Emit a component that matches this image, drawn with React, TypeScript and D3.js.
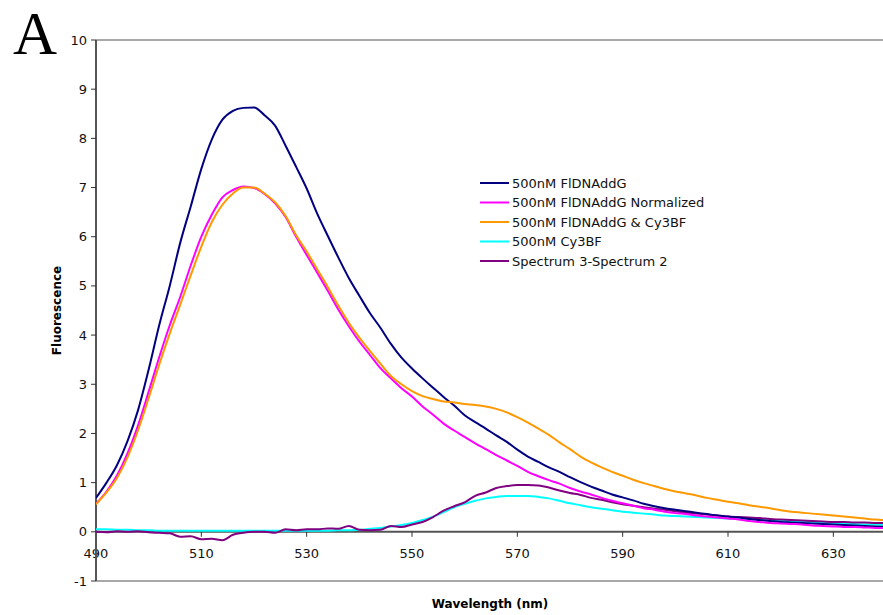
import React from "react";
import * as d3 from "d3";

// Emission wavelengths (nm), 2 nm steps
const wavelengths: number[] = d3.range(490, 641, 2);

const fldnaddG: number[] = [
  0.69, 1.0, 1.36, 1.85, 2.48, 3.3, 4.2, 5.0, 5.88, 6.62,
  7.38, 7.98, 8.38, 8.56, 8.62, 8.63, 8.47, 8.26, 7.85, 7.42,
  6.98, 6.47, 6.02, 5.58, 5.16, 4.8, 4.45, 4.15, 3.82, 3.54,
  3.32, 3.12, 2.93, 2.74, 2.57, 2.37, 2.23, 2.1, 1.96, 1.83,
  1.67, 1.53, 1.42, 1.31, 1.22, 1.11, 1.01, 0.92, 0.84, 0.76,
  0.7, 0.64, 0.57, 0.52, 0.48, 0.45, 0.42, 0.39, 0.36, 0.33,
  0.31, 0.29, 0.26, 0.24, 0.22, 0.2, 0.19, 0.18, 0.17, 0.16,
  0.15, 0.14, 0.13, 0.12, 0.11, 0.1,
];

const fldnaddGNormalized: number[] = [
  0.57, 0.82, 1.15, 1.6, 2.17, 2.85, 3.55, 4.2, 4.78, 5.42,
  6.0, 6.45, 6.8, 6.95, 7.02, 6.99, 6.87, 6.68, 6.4, 6.0,
  5.63, 5.27, 4.9, 4.52, 4.18, 3.87, 3.6, 3.33, 3.12, 2.92,
  2.75, 2.55, 2.38, 2.2, 2.06, 1.93, 1.8, 1.68, 1.56, 1.45,
  1.34, 1.22, 1.13, 1.05, 0.98, 0.89, 0.82, 0.76, 0.69, 0.63,
  0.58, 0.53, 0.48, 0.45, 0.41, 0.38, 0.36, 0.33, 0.31, 0.29,
  0.27, 0.25, 0.22, 0.2, 0.18, 0.17, 0.16, 0.15, 0.13, 0.12,
  0.11, 0.1, 0.1, 0.09, 0.08, 0.08,
];

const fldnaddGCy3bf: number[] = [
  0.56, 0.8, 1.1, 1.52, 2.07, 2.72, 3.4, 4.03, 4.62, 5.22,
  5.8, 6.3, 6.65, 6.88, 7.0, 7.0, 6.88, 6.7, 6.42, 6.03,
  5.7, 5.34, 4.98, 4.6, 4.25, 3.95, 3.68, 3.42, 3.17, 3.0,
  2.86, 2.76, 2.7, 2.65, 2.63, 2.6, 2.58, 2.55, 2.5, 2.43,
  2.33, 2.22, 2.1, 1.97, 1.82, 1.68, 1.53, 1.41, 1.31, 1.22,
  1.14, 1.06, 0.99, 0.93, 0.87, 0.82, 0.78, 0.74, 0.69, 0.65,
  0.61, 0.58, 0.54, 0.51, 0.48, 0.44, 0.41, 0.39, 0.37, 0.35,
  0.33, 0.31, 0.29, 0.27, 0.25, 0.24,
];

const cy3bf: number[] = [
  0.05, 0.05, 0.04, 0.04, 0.03, 0.03, 0.02, 0.02, 0.02, 0.02,
  0.02, 0.02, 0.02, 0.02, 0.02, 0.02, 0.02, 0.02, 0.02, 0.02,
  0.02, 0.02, 0.02, 0.03, 0.03, 0.04, 0.06, 0.08, 0.11, 0.14,
  0.18, 0.24, 0.31, 0.4, 0.5, 0.57, 0.63, 0.68, 0.71, 0.73,
  0.73, 0.73, 0.71, 0.68, 0.63, 0.58, 0.54, 0.5, 0.47, 0.44,
  0.41, 0.39, 0.37, 0.35, 0.33, 0.32, 0.31, 0.3, 0.29, 0.28,
  0.27, 0.26, 0.25, 0.24, 0.23, 0.22, 0.22, 0.21, 0.2, 0.19,
  0.18, 0.17, 0.16, 0.15, 0.15, 0.14,
];

const spectrumDiff: number[] = [
  0.0, -0.01, 0.01, 0.0, 0.01, -0.01, -0.02, -0.03, -0.1, -0.09,
  -0.15, -0.14, -0.17, -0.06, -0.02, 0.0, 0.0, -0.02, 0.05, 0.03,
  0.05, 0.05, 0.07, 0.06, 0.12, 0.04, 0.03, 0.04, 0.12, 0.1,
  0.15, 0.2, 0.3, 0.43, 0.52, 0.6, 0.73, 0.8, 0.89, 0.93,
  0.95, 0.95, 0.94, 0.9, 0.84, 0.79, 0.75, 0.69, 0.65, 0.6,
  0.56, 0.53, 0.5, 0.47, 0.45, 0.42, 0.39, 0.37, 0.35, 0.33,
  0.31, 0.3, 0.29, 0.28, 0.26, 0.25, 0.24, 0.23, 0.22, 0.21,
  0.2, 0.2, 0.19, 0.19, 0.18, 0.18,
];

const seriesNames: string[] = [
  "500nM FlDNAddG",
  "500nM FlDNAddG Normalized",
  "500nM FlDNAddG & Cy3BF",
  "500nM Cy3BF",
  "Spectrum 3-Spectrum 2",
];
const seriesColors: string[] = ["#000080", "#FF00FF", "#FF9900", "#00FFFF", "#800080"];
const seriesValues: number[][] = [fldnaddG, fldnaddGNormalized, fldnaddGCy3bf, cy3bf, spectrumDiff];

const xTickValues: number[] = [490, 510, 530, 550, 570, 590, 610, 630];
const yTickValues: number[] = [-1, 0, 1, 2, 3, 4, 5, 6, 7, 8, 9, 10];

const W = 883;
const H = 615;
const plot = { left: 96, right: 886, top: 40, bottom: 581 };
const FONT = "'DejaVu Sans', Verdana, sans-serif";

export default function App() {
  const x = d3.scaleLinear().domain([490, 640]).range([plot.left, plot.right]);
  const y = d3.scaleLinear().domain([-1, 10]).range([plot.bottom, plot.top]);

  const line = d3
    .line<number>()
    .x((_, i) => x(wavelengths[i]))
    .y((v) => y(v))
    .curve(d3.curveMonotoneX);

  const zeroY = y(0);
  // draw order: the difference spectrum and Cy3BF sit underneath
  const drawOrder = [3, 4, 0, 1, 2];

  return (
    <svg
      width={W}
      height={H}
      style={{ position: "absolute", left: 0, top: 0, background: "#fff" }}
    >
      <rect x={0} y={0} width={W} height={H} fill="#fff" />
      <text x={13} y={54} fontFamily="'Liberation Serif', 'Times New Roman', serif" fontSize={61}>
        A
      </text>

      {/* plot area frame */}
      <line x1={plot.left} x2={W} y1={plot.top} y2={plot.top} stroke="#8c8c8c" strokeWidth={1.5} />
      <line x1={plot.left} x2={W} y1={plot.bottom} y2={plot.bottom} stroke="#8c8c8c" strokeWidth={1.5} />

      <clipPath id="plotClip">
        <rect x={plot.left} y={plot.top} width={plot.right - plot.left} height={plot.bottom - plot.top} />
      </clipPath>

      {/* horizontal axis at zero */}
      <line x1={plot.left} x2={W} y1={zeroY} y2={zeroY} stroke="#555" strokeWidth={2} />
      {xTickValues.map((t) => (
        <g key={t}>
          <line x1={x(t)} x2={x(t)} y1={zeroY} y2={zeroY + 5} stroke="#333" strokeWidth={1} />
          <text
            x={x(t)}
            y={zeroY + 26}
            textAnchor="middle"
            fontFamily={FONT}
            fontSize={13}
            fill="#111"
          >
            {t}
          </text>
        </g>
      ))}

      {/* vertical axis */}
      <line x1={plot.left} x2={plot.left} y1={plot.top} y2={plot.bottom} stroke="#555" strokeWidth={2} />
      {yTickValues.map((t) => (
        <g key={t}>
          <line x1={plot.left - 5} x2={plot.left} y1={y(t)} y2={y(t)} stroke="#333" strokeWidth={1} />
          <text
            x={plot.left - 9}
            y={y(t)}
            dy="0.35em"
            textAnchor="end"
            fontFamily={FONT}
            fontSize={13}
            fill="#111"
          >
            {t}
          </text>
        </g>
      ))}

      <g clipPath="url(#plotClip)">
        {drawOrder.map((k) => (
          <path
            key={k}
            d={line(seriesValues[k]) || ""}
            fill="none"
            stroke={seriesColors[k]}
            strokeWidth={2}
            strokeLinejoin="round"
          />
        ))}
      </g>

      {/* legend */}
      {seriesNames.map((name, i) => {
        const ly = 183 + i * 19.5;
        return (
          <g key={name}>
            <line x1={480} x2={509} y1={ly} y2={ly} stroke={seriesColors[i]} strokeWidth={2} />
            <text x={512} y={ly} dy="0.35em" fontFamily={FONT} fontSize={13} fill="#111">
              {name}
            </text>
          </g>
        );
      })}

      {/* axis titles */}
      <text
        x={490}
        y={608}
        textAnchor="middle"
        fontFamily={FONT}
        fontSize={12}
        fontWeight="bold"
        fill="#000"
      >
        Wavelength (nm)
      </text>
      <text
        transform={`translate(61, ${(plot.top + plot.bottom) / 2}) rotate(-90)`}
        textAnchor="middle"
        fontFamily={FONT}
        fontSize={12}
        fontWeight="bold"
        fill="#000"
      >
        Fluorescence
      </text>
    </svg>
  );
}
